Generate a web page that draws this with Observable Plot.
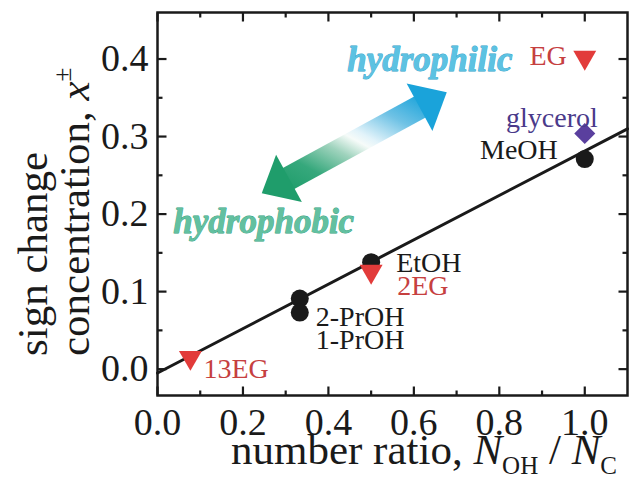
<!DOCTYPE html>
<html><head><meta charset="utf-8">
<script src="https://cdn.jsdelivr.net/npm/d3@7"></script>
<script src="https://cdn.jsdelivr.net/npm/@observablehq/plot@0.6"></script>
<style>html,body{margin:0;padding:0;background:#fff} svg{display:block}</style>
</head><body><div id="chart"></div>
<script>
// ---- data ----
const solvents       = ["13EG", "2-PrOH", "1-PrOH", "EtOH", "2EG", "MeOH", "glycerol", "EG"];
const ratioOHtoC     = [0.077, 0.333, 0.333, 0.5, 0.5, 1.0, 1.0, 1.0];
const signChangeConc = [0.015, 0.091, 0.073, 0.138, 0.126, 0.271, 0.304, 0.402];
const solventClass   = ["EG", "alcohol", "alcohol", "alcohol", "EG", "alcohol", "glycerol", "EG"];
const fitX = [0, 1.1];
const fitY = [-0.005, 0.31];
const xTicks = [0, 0.2, 0.4, 0.6, 0.8, 1.0];
const xMinorTicks = [0.1, 0.3, 0.5, 0.7, 0.9];
const yTicks = [0, 0.1, 0.2, 0.3, 0.4];
const yMinorTicks = [0.05, 0.15, 0.25, 0.35];
const xDomain = [0, 1.1];
const yDomain = [-0.034, 0.46];
const arrowTail = [0.244, 0.227];
const arrowTip  = [0.677, 0.357];
const hydroText = ["hydrophilic", "hydrophobic"];
const hydroX    = [0.444, 0.037];
const hydroY    = [0.385, 0.175];
const xTitleParts = ["number ratio, ", "N", "OH", " / ", "N", "C"];
const yTitleLine1 = "sign change";
const yTitleLine2 = ["concentration, ", "x", "±"];

// ---- tables ----
const rows = solvents.map((s, i) => ({name: s, x: ratioOHtoC[i], y: signChangeConc[i], cls: solventClass[i]}));
const fit = fitX.map((x, i) => ({x, y: fitY[i]}));
const arrowRow = [{x1: arrowTail[0], y1: arrowTail[1], x2: arrowTip[0], y2: arrowTip[1]}];

// ---- layout & styles ----
const W = 630, H = 494, ML = 157, MR = 3, MT = 12, MB = 99;
const FH = H - MT - MB, FW = W - ML - MR;   // frame size in px
const KX = (xDomain[1] - xDomain[0]) / FW, KY = (yDomain[1] - yDomain[0]) / FH; // data units per px
const MAJOR = 9, MINOR = 5;
const FONT = "Liberation Serif";
const RED = "#e23b3a", RED_TXT = "#c6403f", PURPLE = "#5a3f9e", PURPLE_TXT = "#4a3a8a", INK = "#1a1a1a";
const labelStyle = {
  "13EG":    {dx: 13, dy: 20, anchor: "start", fill: RED_TXT},
  "2-PrOH":  {dx: 16, dy: 27, anchor: "start", fill: INK},
  "1-PrOH":  {dx: 16, dy: 36, anchor: "start", fill: INK},
  "EtOH":    {dx: 25, dy: 10, anchor: "start", fill: INK},
  "2EG":     {dx: 26, dy: 24, anchor: "start", fill: RED_TXT},
  "MeOH":    {dx: -27, dy: 0, anchor: "end", fill: INK},
  "glycerol":{dx: 13, dy: -6, anchor: "end", fill: PURPLE_TXT},
  "EG":      {dx: -18, dy: 8, anchor: "end", fill: RED_TXT}
};
const headSymbol = {draw(ctx) { const L = 31, w = 54; ctx.moveTo(0, 0); ctx.lineTo(w / 2, L); ctx.lineTo(-w / 2, L); ctx.closePath(); }};

const defsMark = () => {
  const defs = d3.create("svg:defs");
  const g = defs.append("linearGradient").attr("id", "hydroGrad")
    .attr("x1", 0).attr("y1", 1).attr("x2", 1).attr("y2", 0);
  [[0, "#1f9d6b"], [0.2, "#36a87c"], [0.4, "#9fd3bd"], [0.52, "#f6fbf9"], [0.58, "#e2f3fa"], [0.78, "#6fc2e5"], [1, "#1aa3da"]]
    .forEach(([o, c]) => g.append("stop").attr("offset", o).attr("stop-color", c));
  return defs.node();
};
const titlesMark = () => {
  const g = d3.create("svg:g").attr("font-family", FONT).attr("fill", INK);
  const xt = g.append("text").attr("x", 424).attr("y", 464).attr("text-anchor", "middle").attr("font-size", 43);
  xt.append("tspan").text(xTitleParts[0]);
  xt.append("tspan").attr("font-style", "italic").text(xTitleParts[1]);
  xt.append("tspan").attr("font-size", 25).attr("dy", 10).text(xTitleParts[2]);
  xt.append("tspan").attr("dy", -10).text(xTitleParts[3]);
  xt.append("tspan").attr("font-style", "italic").text(xTitleParts[4]);
  xt.append("tspan").attr("font-size", 25).attr("dy", 10).text(xTitleParts[5]);
  g.append("text").attr("transform", "translate(47,356) rotate(-90)").attr("text-anchor", "start")
    .attr("font-size", 43).text(yTitleLine1);
  const y2 = g.append("text").attr("transform", "translate(89,356) rotate(-90)").attr("text-anchor", "start").attr("font-size", 43);
  y2.append("tspan").text(yTitleLine2[0]);
  y2.append("tspan").attr("font-style", "italic").text(yTitleLine2[1]);
  y2.append("tspan").attr("font-size", 25).attr("dy", -18).text(yTitleLine2[2]);
  return g.node();
};

// inward tick links on all four sides
const tk = {stroke: INK, strokeWidth: 2.2};
const xTickMarks = (ticks, len) => [
  Plot.link(ticks, {...tk, x1: d => d, x2: d => d, y1: () => yDomain[0], y2: () => yDomain[0] + len * KY}),
  Plot.link(ticks, {...tk, x1: d => d, x2: d => d, y1: () => yDomain[1], y2: () => yDomain[1] - len * KY})
];
const yTickMarks = (ticks, len) => [
  Plot.link(ticks, {...tk, y1: d => d, y2: d => d, x1: () => xDomain[0], x2: () => xDomain[0] + len * KX}),
  Plot.link(ticks, {...tk, y1: d => d, y2: d => d, x1: () => xDomain[1], x2: () => xDomain[1] - len * KX})
];

const chart = Plot.plot({
  width: W, height: H,
  marginLeft: ML, marginRight: MR, marginTop: MT, marginBottom: MB,
  style: {fontFamily: FONT, color: INK, background: "#fff", overflow: "visible"},
  x: {domain: xDomain},
  y: {domain: yDomain},
  marks: [
    defsMark,
    Plot.frame({fill: "none", stroke: INK, strokeWidth: 2.5}),
    ...xTickMarks(xTicks, MAJOR),
    ...xTickMarks(xMinorTicks, MINOR),
    ...yTickMarks(yTicks, MAJOR),
    ...yTickMarks(yMinorTicks, MINOR),
    // tick labels
    Plot.axisX({ticks: xTicks, anchor: "bottom", tickSize: 0, tickPadding: 13, tickFormat: d3.format(".1f"), fontSize: 38, label: null}),
    Plot.axisY({ticks: yTicks, anchor: "left", tickSize: 0, tickPadding: 9, tickFormat: d3.format(".1f"), fontSize: 38, label: null}),
    // hydrophilic / hydrophobic arrow
    Plot.arrow(arrowRow, {x1: "x1", y1: "y1", x2: "x2", y2: "y2", stroke: "url(#hydroGrad)", strokeWidth: 24, headLength: 0, insetStart: 18, insetEnd: 18, strokeLinecap: "butt"}),
    Plot.dot(arrowRow, {x: "x2", y: "y2", symbol: headSymbol, r: 1, fill: "#1aa3da", stroke: null, rotate: 61.5}),
    Plot.dot(arrowRow, {x: "x1", y: "y1", symbol: headSymbol, r: 1, fill: "#1f9d6b", stroke: null, rotate: 241.5}),
    Plot.text([{t: hydroText[0], x: hydroX[0], y: hydroY[0]}], {x: "x", y: "y", text: "t", textAnchor: "start", lineAnchor: "bottom", fontSize: 35, fontWeight: "bold", fontStyle: "italic", fill: "#5cc2e2", stroke: "#2d9dc6", strokeWidth: 0.8}),
    Plot.text([{t: hydroText[1], x: hydroX[1], y: hydroY[1]}], {x: "x", y: "y", text: "t", textAnchor: "start", lineAnchor: "bottom", fontSize: 35, fontWeight: "bold", fontStyle: "italic", fill: "#62c0a0", stroke: "#2a9a78", strokeWidth: 0.8}),
    // fit line
    Plot.line(fit, {x: "x", y: "y", stroke: INK, strokeWidth: 3}),
    // points
    Plot.dot(rows.filter(d => d.cls === "alcohol"), {x: "x", y: "y", r: 9, fill: INK, stroke: null}),
    Plot.dot(rows.filter(d => d.cls === "EG"), {x: "x", y: "y", symbol: "triangle", rotate: 180, r: 8.5, fill: RED, stroke: null}),
    Plot.dot(rows.filter(d => d.cls === "glycerol"), {x: "x", y: "y", symbol: "diamond2", r: 9.5, fill: PURPLE, stroke: null}),
    // point labels
    ...rows.map(d => {
      const s = labelStyle[d.name];
      return Plot.text([d], {x: "x", y: "y", text: "name", dx: s.dx, dy: s.dy, textAnchor: s.anchor, lineAnchor: "bottom", fontSize: 28, fill: s.fill});
    }),
    titlesMark
  ]
});
document.getElementById("chart").appendChild(chart);
</script>
</body></html>
